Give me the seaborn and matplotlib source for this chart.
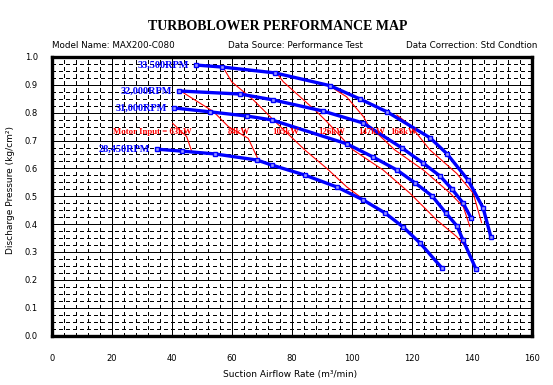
import matplotlib
matplotlib.use("Agg")
import matplotlib.pyplot as plt
import seaborn as sns
import pandas as pd
from matplotlib.ticker import MultipleLocator

# ---------------- data ----------------
rpm_labels = ["33,500RPM", "32,000RPM", "31,000RPM", "28,450RPM"]

flow_33500 = [48.0, 56.7, 74.3, 92.7, 102.7, 111.7, 126.0, 131.7, 138.7, 143.7, 146.3]
pres_33500 = [0.971, 0.964, 0.943, 0.897, 0.849, 0.803, 0.710, 0.652, 0.558, 0.458, 0.354]

flow_32000 = [42.3, 62.7, 73.7, 90.3, 103.7, 116.7, 123.7, 129.3, 133.3, 137.0, 139.7]
pres_32000 = [0.878, 0.867, 0.846, 0.806, 0.763, 0.673, 0.619, 0.573, 0.526, 0.476, 0.422]

flow_31000 = [40.7, 52.7, 65.0, 73.3, 98.3, 107.0, 115.0, 121.0, 126.7, 131.3, 135.0, 137.0, 141.3]
pres_31000 = [0.817, 0.803, 0.788, 0.774, 0.688, 0.641, 0.594, 0.548, 0.501, 0.440, 0.393, 0.343, 0.239]

flow_28450 = [35.0, 43.3, 54.3, 68.3, 73.3, 84.3, 95.0, 103.7, 111.0, 117.0, 122.7, 130.0]
pres_28450 = [0.669, 0.662, 0.652, 0.630, 0.612, 0.576, 0.533, 0.487, 0.440, 0.390, 0.332, 0.242]

power_labels = ["Motor Input = 63kW", "84kW", "105kW", "126kW", "147kW", "168kW"]

flow_63kw = [40.2, 44.9, 46.6]
pres_63kw = [0.762, 0.714, 0.660]
flow_84kw = [42.7, 53.8, 58.8, 65.4, 68.8, 71.6]
pres_84kw = [0.879, 0.804, 0.750, 0.708, 0.630, 0.620]
flow_105kw = [56.6, 59.9, 67.1, 73.8, 84.3, 91.6, 98.2, 102.7]
pres_105kw = [0.971, 0.911, 0.846, 0.774, 0.666, 0.600, 0.534, 0.498]
flow_126kw = [75.4, 77.1, 82.7, 88.2, 91.6, 100.4, 110.4, 119.3, 128.2, 134.9, 138.8]
pres_126kw = [0.935, 0.911, 0.857, 0.804, 0.768, 0.666, 0.594, 0.511, 0.415, 0.355, 0.307]
flow_147kw = [92.1, 98.2, 103.8, 105.4, 114.3, 123.8, 132.7, 137.1, 139.3]
pres_147kw = [0.899, 0.857, 0.786, 0.756, 0.666, 0.594, 0.511, 0.462, 0.391]
flow_168kw = [114.9, 119.3, 126.0, 134.9, 140.4, 143.2]
pres_168kw = [0.792, 0.756, 0.666, 0.582, 0.511, 0.405]

x_ticks = [0, 20, 40, 60, 80, 100, 120, 140, 160]
y_ticks = [0.0, 0.1, 0.2, 0.3, 0.4, 0.5, 0.6, 0.7, 0.8, 0.9, 1.0]

# ---------------- frames ----------------
speed_flows = [flow_33500, flow_32000, flow_31000, flow_28450]
speed_press = [pres_33500, pres_32000, pres_31000, pres_28450]
curves = pd.concat(
    [pd.DataFrame({"flow": f, "pressure": p, "speed": lab})
     for lab, f, p in zip(rpm_labels, speed_flows, speed_press)],
    ignore_index=True)

power_flows = [flow_63kw, flow_84kw, flow_105kw, flow_126kw, flow_147kw, flow_168kw]
power_press = [pres_63kw, pres_84kw, pres_105kw, pres_126kw, pres_147kw, pres_168kw]
powers = pd.concat(
    [pd.DataFrame({"flow": f, "pressure": p, "power": lab})
     for lab, f, p in zip(power_labels, power_flows, power_press)],
    ignore_index=True)

# ---------------- figure ----------------
sns.set_style("white")
plt.rcParams["font.family"] = ["DejaVu Sans"]
plt.rcParams["text.color"] = "black"
plt.rcParams["xtick.color"] = "black"
plt.rcParams["ytick.color"] = "black"

W, H = 553, 385
fig = plt.figure(figsize=(W / 100, H / 100), dpi=100)
ax = fig.add_axes([52 / W, 1 - 335.5 / H, 480 / W, (335.5 - 57) / H])

ax.set_xlim(0, 160)
ax.set_ylim(0, 1.0)
ax.xaxis.set_major_locator(MultipleLocator(20))
ax.xaxis.set_minor_locator(MultipleLocator(4))
ax.yaxis.set_major_locator(MultipleLocator(0.1))
ax.yaxis.set_minor_locator(MultipleLocator(0.025))
ax.set_xticks(x_ticks)
ax.set_xticklabels([str(v) for v in x_ticks])
ax.set_yticks(y_ticks)
ax.set_yticklabels([f"{v:.1f}" for v in y_ticks])
ax.grid(which="major", color="black", lw=0.72, ls="-", antialiased=False)
ax.grid(which="minor", color="black", lw=0.72, ls=(0, (4, 4)), antialiased=False)
ax.set_axisbelow(True)
ax.tick_params(which="both", length=0, colors="black")
ax.tick_params(axis="x", pad=13, labelsize=6)
ax.tick_params(axis="y", pad=10, labelsize=6)
for s in ax.spines.values():
    s.set_linewidth(2.4)
    s.set_color("black")
    s.set_zorder(5)

# iso-power lines
sns.lineplot(data=powers, x="flow", y="pressure", units="power", estimator=None,
             sort=False, color="red", lw=0.8, ax=ax, legend=False, zorder=2)

# speed curves
sns.lineplot(data=curves, x="flow", y="pressure", units="speed", estimator=None,
             sort=False, color="#0000ff", lw=2.4, marker="s", markersize=3.2,
             markerfacecolor="#9999ff", markeredgecolor="#0000ff", markeredgewidth=1.0,
             ax=ax, legend=False, zorder=3)

# RPM labels
for lab, f, p in zip(rpm_labels, speed_flows, speed_press):
    ax.text(f[0] - 2.4, p[0], lab, ha="right", va="center", color="#0000ff",
            fontsize=7.4, fontweight="bold", family="Liberation Serif", zorder=6)

# power labels
power_label_x = [20.3, 58.7, 73.3, 88.7, 102.0, 112.7]
for lab, lx in zip(power_labels, power_label_x):
    ax.text(lx, 0.729, lab, ha="left", va="center", color="red",
            fontsize=6.3, fontweight="bold", family="Liberation Serif", zorder=6)

ax.set_xlabel("")
ax.set_ylabel("")

fig.text(290 / W, 1 - 374 / H, "Suction Airflow Rate (m³/min)", ha="center", va="center",
         fontsize=6.5)
fig.text(11 / W, 1 - 190 / H, "Discharge Pressure (kg/cm²)", ha="center", va="center",
         rotation=90, fontsize=6.5)

fig.text(278 / W, 1 - 26.5 / H, "TURBOBLOWER PERFORMANCE MAP", ha="center", va="center",
         fontsize=10, fontweight="bold", family="Liberation Serif")
fig.text(52 / W, 1 - 45 / H, "Model Name: MAX200-C080", ha="left", va="center", fontsize=6.3)
fig.text(228 / W, 1 - 45 / H, "Data Source: Performance Test", ha="left", va="center", fontsize=6.3)
fig.text(537 / W, 1 - 45 / H, "Data Correction: Std Condtion", ha="right", va="center", fontsize=6.3)

fig.savefig("out.png", dpi=100)
